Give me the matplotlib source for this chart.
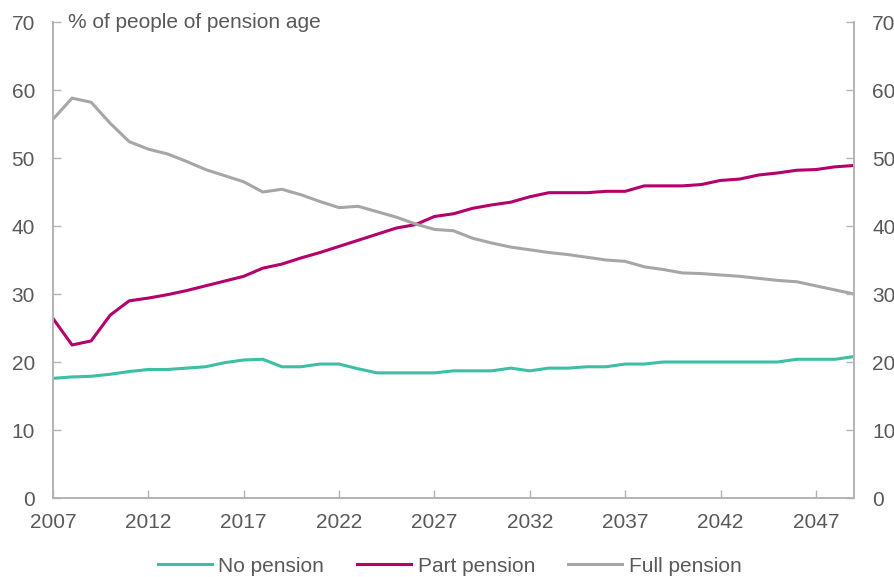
import numpy as np
import matplotlib.pyplot as plt

plt.rcParams['font.family'] = ['Liberation Sans', 'DejaVu Sans']

years = np.arange(2007, 2050)

no_pension = [17.6, 17.8, 17.9, 18.2, 18.6, 18.9, 18.9, 19.1, 19.3, 19.9,
              20.3, 20.4, 19.3, 19.3, 19.7, 19.7, 19.0, 18.4, 18.4, 18.4,
              18.4, 18.7, 18.7, 18.7, 19.1, 18.7, 19.1, 19.1, 19.3, 19.3,
              19.7, 19.7, 20.0, 20.0, 20.0, 20.0, 20.0, 20.0, 20.0, 20.4,
              20.4, 20.4, 20.8]

part_pension = [26.4, 22.5, 23.1, 26.9, 29.0, 29.4, 29.9, 30.5, 31.2, 31.9,
                32.6, 33.8, 34.4, 35.3, 36.1, 37.0, 37.9, 38.8, 39.7, 40.2,
                41.4, 41.8, 42.6, 43.1, 43.5, 44.3, 44.9, 44.9, 44.9, 45.1,
                45.1, 45.9, 45.9, 45.9, 46.1, 46.7, 46.9, 47.5, 47.8, 48.2,
                48.3, 48.7, 48.9]

full_pension = [55.7, 58.8, 58.2, 55.1, 52.4, 51.3, 50.6, 49.5, 48.3, 47.4,
                46.5, 45.0, 45.4, 44.6, 43.6, 42.7, 42.9, 42.1, 41.3, 40.3,
                39.5, 39.3, 38.2, 37.5, 36.9, 36.5, 36.1, 35.8, 35.4, 35.0,
                34.8, 34.0, 33.6, 33.1, 33.0, 32.8, 32.6, 32.3, 32.0, 31.8,
                31.2, 30.6, 30.0]

series_names = ['No pension', 'Part pension', 'Full pension']
colors = ['#3dbfa3', '#b5006c', '#a6a6a6']

text_col = '#595959'
axis_col = '#b3b3b3'
fs = 15

fig = plt.figure(figsize=(8.95, 5.77), dpi=100)
ax = fig.add_axes([53 / 895, 1 - 498 / 577, (854 - 53) / 895, (498 - 22) / 577])

for vals, name, c in zip([no_pension, part_pension, full_pension], series_names, colors):
    ax.plot(years, vals, color=c, linewidth=2.2, label=name)

ax.set_xlim(2007, 2049)
ax.set_ylim(0, 70)
ax.set_xticks(np.arange(2007, 2049, 5))
ax.set_yticks(np.arange(0, 71, 10))

ax2 = ax.twinx()
ax2.set_ylim(0, 70)
ax2.set_yticks(np.arange(0, 71, 10))

for a in (ax, ax2):
    a.spines['top'].set_visible(False)
    for s in ('left', 'right', 'bottom'):
        a.spines[s].set_color(axis_col)
        a.spines[s].set_linewidth(1.2)
    a.tick_params(direction='in', length=6, color=axis_col, labelcolor=text_col,
                  labelsize=fs, width=1)
ax.tick_params(axis='y', pad=13)
ax2.tick_params(axis='y', pad=13)
ax.tick_params(axis='x', pad=11)

ax.text(0.019, 1.0, '% of people of pension age', transform=ax.transAxes,
        fontsize=fs, color=text_col, va='center', ha='left')

leg = ax.legend(loc='center', bbox_to_anchor=(0.495, -0.143), ncol=3, frameon=False,
                fontsize=fs, handlelength=2.6, columnspacing=1.6, handletextpad=0.3)
for t in leg.get_texts():
    t.set_color(text_col)

fig.savefig('out.png', dpi=100)
